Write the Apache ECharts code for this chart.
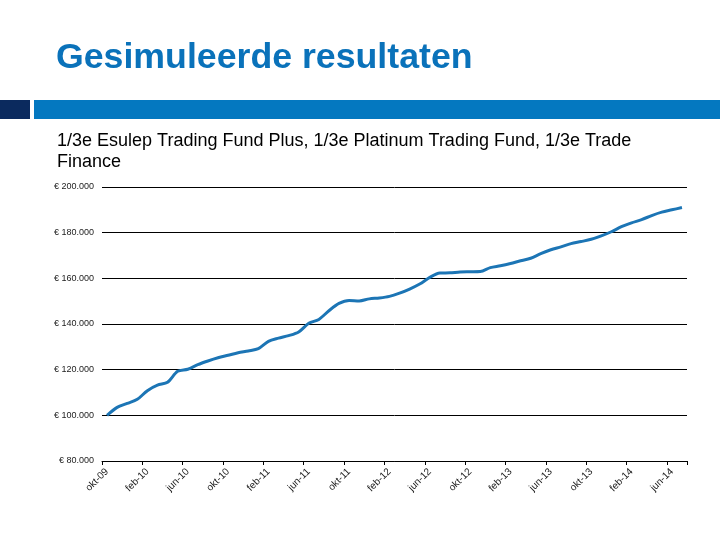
<!DOCTYPE html>
<html>
<head>
<meta charset="utf-8">
<script src="https://cdn.jsdelivr.net/npm/echarts@6/dist/echarts.min.js"></script>
<style>html,body{margin:0;padding:0;background:#fff}#c{width:720px;height:540px}</style>
</head>
<body>
<div id="c"></div>
<script>
const titleText = 'Gesimuleerde resultaten';
const subtitleLines = ['1/3e Esulep Trading Fund Plus, 1/3e Platinum Trading Fund, 1/3e Trade', 'Finance'];
const months = ['okt-09','nov-09','dec-09',
  'jan-10','feb-10','mrt-10','apr-10','mei-10','jun-10','jul-10','aug-10','sep-10','okt-10','nov-10','dec-10',
  'jan-11','feb-11','mrt-11','apr-11','mei-11','jun-11','jul-11','aug-11','sep-11','okt-11','nov-11','dec-11',
  'jan-12','feb-12','mrt-12','apr-12','mei-12','jun-12','jul-12','aug-12','sep-12','okt-12','nov-12','dec-12',
  'jan-13','feb-13','mrt-13','apr-13','mei-13','jun-13','jul-13','aug-13','sep-13','okt-13','nov-13','dec-13',
  'jan-14','feb-14','mrt-14','apr-14','mei-14','jun-14','jul-14'];
const values = [100000,103500,105200,107000,110800,113200,114500,119300,120200,122200,123800,125200,126300,127400,128200,
  129200,132400,133800,134900,136500,140300,142000,145800,149000,150300,150100,151000,151400,152100,153500,155300,
  157500,160400,162300,162400,162800,162900,163000,164700,165500,166500,167700,168800,170800,172500,173800,175200,
  176100,177100,178600,180400,182600,184300,185700,187500,189000,190000,191000];
const yTicks = {min: 80000, max: 200000, step: 20000};

function euro(v){
  return '\u20AC ' + String(v).replace(/\B(?=(\d{3})+(?!\d))/g, '.');
}

const chart = echarts.init(document.getElementById('c'), null, {renderer: 'canvas'});
chart.setOption({
  animation: false,
  backgroundColor: '#fff',
  graphic: [
    {type: 'text', x: 56, y: 58, style: {text: titleText, font: 'bold 35.7px "Liberation Sans", Arial', fill: '#0A72BA', verticalAlign: 'middle'}},
    {type: 'rect', shape: {x: 0, y: 100, width: 30, height: 19}, style: {fill: '#0B2A5E'}},
    {type: 'rect', shape: {x: 34, y: 100, width: 686, height: 19}, style: {fill: '#0478C0'}},
    {type: 'text', x: 57, y: 141, style: {text: subtitleLines[0], font: '18px "Liberation Sans", Arial', fill: '#000', verticalAlign: 'middle'}},
    {type: 'text', x: 57, y: 162, style: {text: subtitleLines[1], font: '18px "Liberation Sans", Arial', fill: '#000', verticalAlign: 'middle'}}
  ],
  grid: {left: 102, right: 33, top: 187, bottom: 79, containLabel: false},
  xAxis: {
    type: 'category', data: months, boundaryGap: true,
    axisLine: {lineStyle: {color: '#000', width: 1}},
    axisTick: {show: true, interval: 3, length: 4, lineStyle: {color: '#000'}},
    axisLabel: {interval: 3, rotate: 45, fontSize: 10, color: '#222', fontFamily: 'Liberation Sans, Arial', margin: 9}
  },
  yAxis: {
    type: 'value', min: yTicks.min, max: yTicks.max, interval: yTicks.step,
    axisLine: {show: false}, axisTick: {show: false},
    splitLine: {lineStyle: {color: '#000', width: 1}},
    axisLabel: {formatter: euro, fontSize: 9, color: '#222', fontFamily: 'Liberation Sans Narrow, Liberation Sans, Arial', margin: 8}
  },
  series: [{
    type: 'line', data: values, showSymbol: false, smooth: 0.3,
    lineStyle: {color: '#1C75B5', width: 3}
  }]
});
</script>
</body>
</html>
